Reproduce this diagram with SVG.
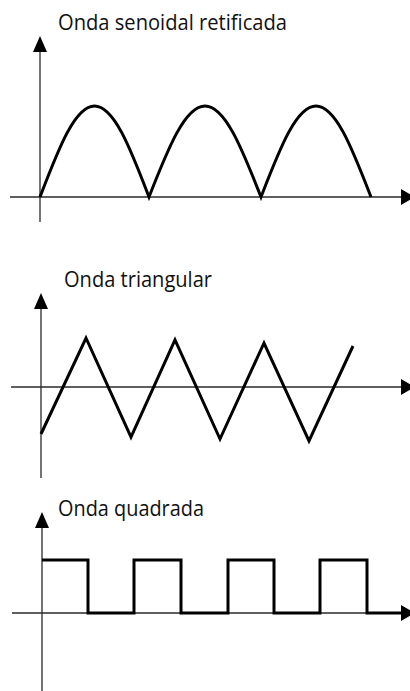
<svg xmlns="http://www.w3.org/2000/svg" width="410" height="691" viewBox="0 0 410 691">
<style>
.bg{fill:#ffffff}
.axis{stroke:#2a2a2a;stroke-width:1.3;fill:none}
.head{fill:#000000;stroke:none}
.wave{stroke:#000000;stroke-width:3;fill:none;stroke-linejoin:miter;stroke-linecap:butt}
.title{font-family:"Open Sans","Liberation Sans",sans-serif;font-size:21px;fill:#111111}
</style>
<rect class="bg" x="0" y="0" width="410" height="691"/>
<g id="panel-sine">
<text class="title" x="58" y="30" textLength="229" lengthAdjust="spacingAndGlyphs">Onda senoidal retificada</text>
<g id="axes-sine">
<line class="axis" x1="40" y1="50" x2="40" y2="222"/>
<polygon class="head" points="33,52 47,52 40,36"/>
<line class="axis" x1="10" y1="197" x2="402" y2="197"/>
<polygon class="head" points="401,189 401,205 415,197"/>
</g>
<path id="wave-sine" class="wave" d="M40,197 C59.2,146.7 75.3,106 94.5,106 C113.7,106 129.8,146.7 149,197 C168.7,146.7 185.3,106 205,106 C224.7,106 241.3,146.7 261,197 C280.4,146.7 296.6,106 316,106 C335.4,106 351.6,146.7 371,197"/>
</g>
<g id="panel-triangle">
<text class="title" x="64" y="287" textLength="148" lengthAdjust="spacingAndGlyphs">Onda triangular</text>
<g id="axes-triangle">
<line class="axis" x1="41" y1="307" x2="41" y2="478"/>
<polygon class="head" points="34,309 48,309 41,293"/>
<line class="axis" x1="11" y1="387" x2="402" y2="387"/>
<polygon class="head" points="401,379 401,395 415,387"/>
</g>
<polyline id="wave-triangle" class="wave" points="41,434 86,338 131,437 175,340 220,439 264,343 309,441 353,346"/>
</g>
<g id="panel-square">
<text class="title" x="58" y="516" textLength="146" lengthAdjust="spacingAndGlyphs">Onda quadrada</text>
<g id="axes-square">
<line class="axis" x1="42" y1="526" x2="42" y2="691"/>
<polygon class="head" points="35,528 49,528 42,512"/>
<line class="axis" x1="12" y1="613" x2="402" y2="613"/>
<polygon class="head" points="401,605 401,621 415,613"/>
</g>
<path id="wave-square" class="wave" d="M42,560 H88 V613 H134 V560 H181 V613 H228 V560 H274 V613 H320 V560 H367 V613 H401"/>
</g>
</svg>
